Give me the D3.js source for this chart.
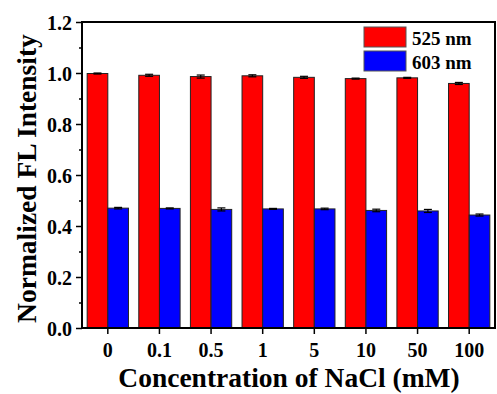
<!DOCTYPE html>
<html>
<head>
<meta charset="utf-8">
<script src="https://cdn.jsdelivr.net/npm/d3@7"></script>
<style>
html,body{margin:0;padding:0;background:#fff;}
svg{display:block;font-family:"Liberation Serif","Times New Roman",serif;font-weight:bold;}
</style>
</head>
<body>
<svg id="chart" width="497" height="394"></svg>
<script>
const categories = ["0","0.1","0.5","1","5","10","50","100"];
const seriesNames = ["525 nm","603 nm"];
const values525 = [0.998,0.991,0.986,0.989,0.983,0.978,0.981,0.959];
const errors525 = [0.002,0.004,0.006,0.004,0.004,0.002,0.002,0.004];
const values603 = [0.470,0.469,0.465,0.467,0.467,0.461,0.459,0.443];
const errors603 = [0.003,0.002,0.006,0.002,0.003,0.005,0.006,0.004];
const yTicks = [0.0,0.2,0.4,0.6,0.8,1.0,1.2];
const yMinorTicks = [0.1,0.3,0.5,0.7,0.9,1.1];
const colors = ["#ff0000","#0000ff"];

const svg = d3.select("#chart");
const L = 82, R = 495, T = 22, B = 328;

const x0 = d3.scaleBand().domain(categories).range([L,R]).paddingInner(0.2).paddingOuter(0.1);
const x1 = d3.scaleBand().domain(seriesNames).range([0,x0.bandwidth()]).padding(0);
const y = d3.scaleLinear().domain([0,1.2]).range([B,T]);

const series = [
  {name:seriesNames[0], vals:values525, errs:errors525, color:colors[0]},
  {name:seriesNames[1], vals:values603, errs:errors603, color:colors[1]}
];

series.forEach(s=>{
  const g = svg.append("g");
  g.selectAll("rect").data(categories).join("rect")
    .attr("x",(c)=>x0(c)+x1(s.name))
    .attr("y",(c,i)=>y(s.vals[i]))
    .attr("width",x1.bandwidth())
    .attr("height",(c,i)=>B-y(s.vals[i]))
    .attr("fill",s.color)
    .attr("stroke","#222")
    .attr("stroke-width",1);
  const eg = svg.append("g").attr("stroke","#000").attr("stroke-width",1.2);
  categories.forEach((c,i)=>{
    const cx = x0(c)+x1(s.name)+x1.bandwidth()/2;
    const yt = y(s.vals[i]+s.errs[i]), yb = y(s.vals[i]-s.errs[i]);
    eg.append("line").attr("x1",cx).attr("x2",cx).attr("y1",yt).attr("y2",yb);
    eg.append("line").attr("x1",cx-4).attr("x2",cx+4).attr("y1",yt).attr("y2",yt);
    eg.append("line").attr("x1",cx-4).attr("x2",cx+4).attr("y1",yb).attr("y2",yb);
  });
});

const yAxis = d3.axisLeft(y).tickValues(yTicks).tickFormat(d3.format(".1f")).tickSize(6).tickPadding(4);
const yMinor = d3.axisLeft(y).tickValues(yMinorTicks).tickFormat("").tickSize(3);
const xAxis = d3.axisBottom(x0).tickSize(6).tickPadding(9);

const gy = svg.append("g").attr("transform",`translate(${L},0)`).call(yAxis);
const gym = svg.append("g").attr("transform",`translate(${L},0)`).call(yMinor);
const gx = svg.append("g").attr("transform",`translate(0,${B})`).call(xAxis);
[gy,gym,gx].forEach(g=>{
  g.select(".domain").remove();
  g.selectAll(".tick line").attr("stroke","#000").attr("stroke-width",1.5);
  g.selectAll("text").attr("font-size",20).attr("font-weight","bold").attr("fill","#000")
    .attr("font-family","Liberation Serif, Times New Roman, serif");
});
gy.selectAll("text").attr("dy","0.35em");

svg.append("rect").attr("x",L).attr("y",T).attr("width",R-L).attr("height",B-T)
  .attr("fill","none").attr("stroke","#000").attr("stroke-width",2);

svg.append("text").attr("x",289).attr("y",387).attr("text-anchor","middle")
  .attr("font-size",27.5).attr("fill","#000").text("Concentration of NaCl (mM)");
svg.append("text").attr("transform",`translate(36,178.5) rotate(-90)`).attr("text-anchor","middle")
  .attr("font-size",27.5).attr("fill","#000").text("Normalized FL Intensity");

const lg = svg.append("g");
series.forEach((s,i)=>{
  const yy = 27 + i*24;
  lg.append("rect").attr("x",364).attr("y",yy).attr("width",42).attr("height",20)
    .attr("fill",s.color).attr("stroke","#555").attr("stroke-width",1);
  lg.append("text").attr("x",412).attr("y",yy+17.5).attr("font-size",19).attr("fill","#000").text(s.name);
});
</script>
</body>
</html>
